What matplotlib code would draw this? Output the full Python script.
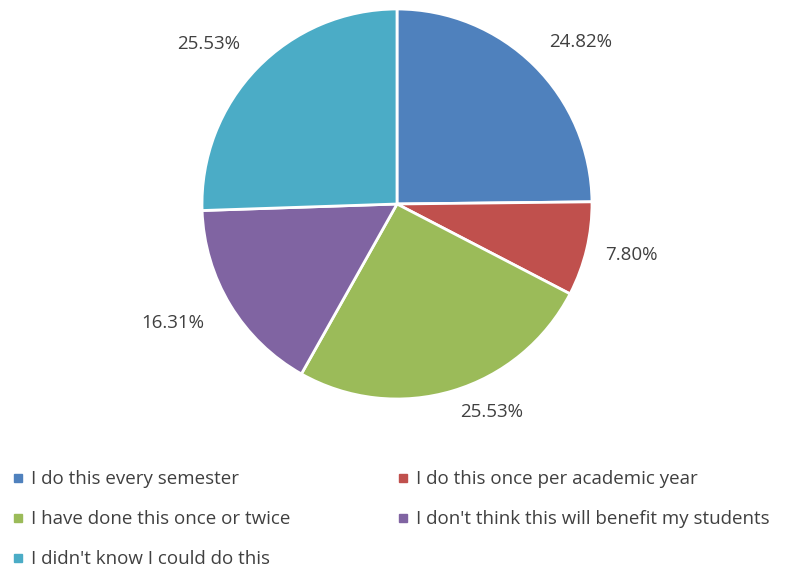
import numpy as np
import matplotlib
matplotlib.use("Agg")
import matplotlib.pyplot as plt
from matplotlib.lines import Line2D

categories = [
    "I do this every semester",
    "I do this once per academic year",
    "I have done this once or twice",
    "I don't think this will benefit my students",
    "I didn't know I could do this",
]
shares = [24.82, 7.80, 25.53, 16.31, 25.53]
colors = ["#4F81BD", "#C0504D", "#9BBB59", "#8064A2", "#4BACC6"]

# fine placement of the percentage labels around the rim (degrees, radius factor)
label_angle_shift = [-3.9, 1.2, 7.9, -3.3, 3.7]
label_radius = [1.256, 1.23, 1.175, 1.30, 1.27]

plt.rcParams["font.family"] = ["Open Sans", "DejaVu Sans"]
text_color = "#404040"
fs = 13.5

W, H = 791, 570
fig = plt.figure(figsize=(W / 100, H / 100), dpi=100)

cx, cy, r = 397, 204, 195
ax = fig.add_axes([(cx - r) / W, 1 - (cy + r) / H, 2 * r / W, 2 * r / H])
wedges, texts, autotexts = ax.pie(
    shares,
    colors=colors,
    startangle=90,
    counterclock=False,
    autopct=lambda p: f"{p:.2f}%",
    pctdistance=1.25,
    wedgeprops=dict(edgecolor="white", linewidth=2),
    textprops=dict(color=text_color, fontsize=fs),
)
for w, t, da, rr in zip(wedges, autotexts, label_angle_shift, label_radius):
    mid = np.deg2rad((w.theta1 + w.theta2) / 2 + da)
    t.set_position((rr * np.cos(mid), rr * np.sin(mid)))
    t.set_ha("center")
    t.set_va("center")
ax.set_xlim(-1, 1)
ax.set_ylim(-1, 1)
ax.set_aspect("equal")

handles = [
    Line2D([], [], marker="s", linestyle="none", markersize=5.5,
           markerfacecolor=c, markeredgecolor=c)
    for c in colors
]
order = [0, 2, 4, 1, 3]
leg = fig.legend(
    [handles[i] for i in order],
    [categories[i] for i in order],
    ncol=2,
    loc="upper left",
    bbox_to_anchor=(6 / W, 1 - 463 / H),
    frameon=False,
    fontsize=fs,
    labelcolor=text_color,
    handlelength=0.5,
    handletextpad=0.45,
    columnspacing=5.75,
    labelspacing=1.17,
    borderaxespad=0,
)

fig.savefig("out.png", dpi=100)
